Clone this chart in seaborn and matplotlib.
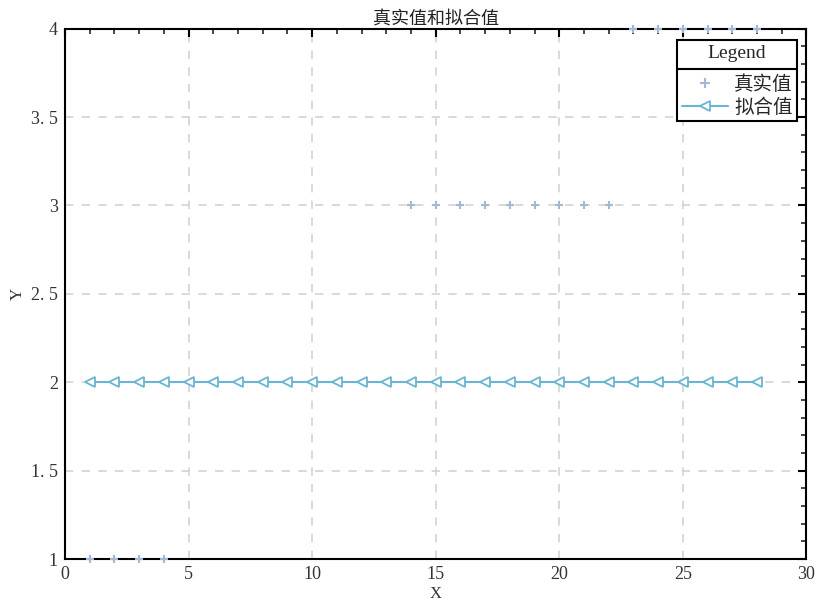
import numpy as np
import pandas as pd
import matplotlib
matplotlib.use("Agg")
import matplotlib.pyplot as plt
import seaborn as sns
from matplotlib.ticker import MultipleLocator
from matplotlib.lines import Line2D

# --- DATA ---
real_x = [1, 2, 3, 4, 14, 15, 16, 17, 18, 19, 20, 21, 22, 23, 24, 25, 26, 27, 28]
real_y = [1, 1, 1, 1, 3, 3, 3, 3, 3, 3, 3, 3, 3, 4, 4, 4, 4, 4, 4]
fit_x = list(range(1, 29))
fit_y = [2] * 28

df_real = pd.DataFrame({"x": real_x, "y": real_y})
df_fit = pd.DataFrame({"x": fit_x, "y": fit_y})

sns.set_theme(style="white")
plt.rcParams['font.family'] = ['Liberation Serif', 'Noto Sans CJK SC']
plt.rcParams['axes.unicode_minus'] = False

fig, ax = plt.subplots(figsize=(8.22, 6.11), dpi=100)
fig.subplots_adjust(left=0.079, right=0.981, top=0.953, bottom=0.085)

real_color = '#a3b8d6'
fit_color = '#6ab4d6'

sns.scatterplot(data=df_real, x="x", y="y", ax=ax, marker='+', s=40,
                color=real_color, linewidth=1.5, zorder=4, clip_on=False, legend=False)
sns.lineplot(data=df_fit, x="x", y="y", ax=ax, color=fit_color, linewidth=1.5,
             marker='<', markersize=7, markerfacecolor='white', markeredgecolor=fit_color,
             markeredgewidth=1.3, zorder=3, legend=False)

ax.set_xlim(0, 30)
ax.set_ylim(1, 4)
ax.xaxis.set_major_locator(MultipleLocator(5))
ax.xaxis.set_minor_locator(MultipleLocator(1))
ax.yaxis.set_minor_locator(MultipleLocator(0.1))
ax.set_yticks([1, 1.5, 2, 2.5, 3, 3.5, 4])
ax.set_yticklabels(['1', '1. 5', '2', '2. 5', '3', '3. 5', '4'])

ax.tick_params(axis='both', which='major', direction='in', length=6, width=1.5,
               labelsize=13, colors='black', top=True, right=True, pad=5)
ax.tick_params(axis='both', which='minor', direction='in', length=3.5, width=1.2,
               top=True, right=True)
ax.tick_params(labelcolor='#333333')
for sp in ax.spines.values():
    sp.set_color('black')
    sp.set_linewidth(1.5)

ax.grid(True, which='major', linestyle=(0, (5, 5)), color='#d3d3d3', linewidth=1.2)
ax.set_axisbelow(True)

ax.set_xlabel('X', fontsize=12, labelpad=2, color='#333333')
ax.set_ylabel('Y', fontsize=12, labelpad=4, color='#333333')
ax.set_title('真实值和拟合值', fontsize=13, pad=3, color='#222222')

handles = [
    Line2D([], [], linestyle='none', marker='+', color=real_color, markersize=7, markeredgewidth=1.5),
    Line2D([], [], color=fit_color, linewidth=1.5, marker='<', markersize=7,
           markerfacecolor='white', markeredgecolor=fit_color, markeredgewidth=1.3),
]
leg = ax.legend(handles, ['真实值', '拟合值'], title='Legend', loc='upper right',
                bbox_to_anchor=(0.988, 0.979), borderaxespad=0, fontsize=14, title_fontsize=14,
                frameon=True, fancybox=False, edgecolor='black', framealpha=1,
                borderpad=0.25, handlelength=2.4, handletextpad=0.3,
                labelspacing=0.2, markerfirst=True)
leg.get_frame().set_linewidth(1.5)
leg.set_zorder(10)
leg._legend_box.sep = 10

# separator line under the legend title
fig.canvas.draw()
fbox = leg.get_frame().get_window_extent()
tbox = leg.get_title().get_window_extent()
hbox = leg._legend_handle_box.get_window_extent(fig.canvas.get_renderer())
ysep = (tbox.y0 + hbox.y1) / 2
inv = fig.transFigure.inverted()
(x0, y0) = inv.transform((fbox.x0, ysep))
(x1, _) = inv.transform((fbox.x1, ysep))
fig.add_artist(Line2D([x0, x1], [y0, y0], color='black', linewidth=1.5, zorder=11))

plt.savefig('out.png', dpi=100)
